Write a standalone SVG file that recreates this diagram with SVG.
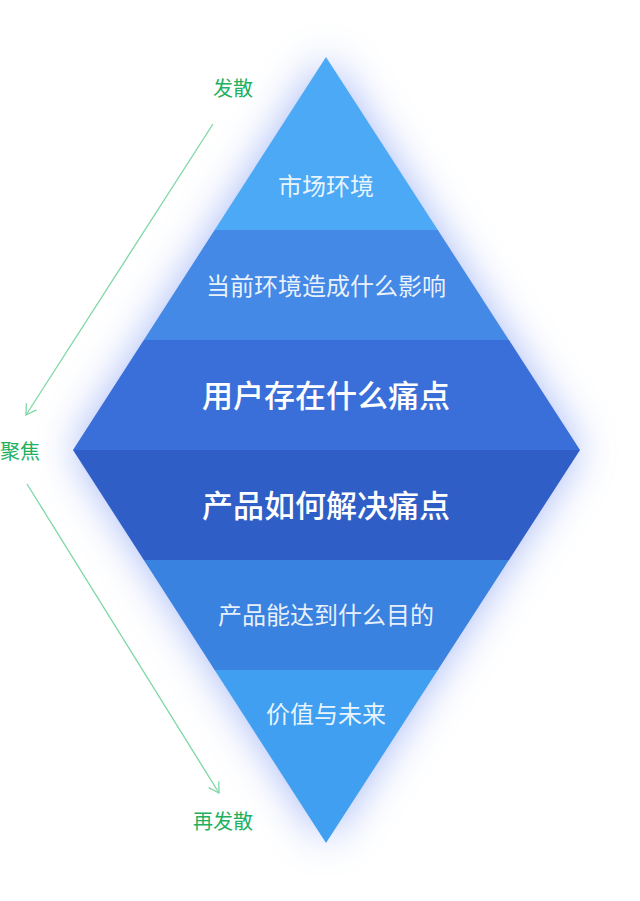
<svg xmlns="http://www.w3.org/2000/svg" width="640" height="901" viewBox="0 0 640 901">
<style>
.t{font-family:"Noto Sans CJK SC","Noto Sans",sans-serif;fill:#ffffff;text-anchor:middle}
.s{font-size:24px;fill-opacity:0.9}
.b{font-size:31px;font-weight:500}
.g{font-family:"Noto Sans CJK SC","Noto Sans",sans-serif;fill:#22b060;font-size:20px;text-anchor:middle}
.ln{stroke:#7dd8a4;stroke-width:1.3;fill:none}
</style>
<defs>
<filter id="glow" x="-40%" y="-30%" width="180%" height="160%">
<feGaussianBlur stdDeviation="22"/>
</filter>
<clipPath id="dia"><polygon points="326,57 580,450 326,843 73,450"/></clipPath>
<marker id="ah" markerWidth="14" markerHeight="14" refX="11" refY="7" orient="auto" markerUnits="userSpaceOnUse">
<path d="M1,1 L11,7 L1,13" fill="none" stroke="#7dd8a4" stroke-width="1.3"/>
</marker>
</defs>
<rect width="640" height="901" fill="#ffffff"/>
<polygon points="326,60 577,450 326,840 76,450" fill="#4f74ee" opacity="0.55" filter="url(#glow)"/>
<g clip-path="url(#dia)">
<g id="band1"><rect x="60" y="50" width="530" height="180" fill="#4ca9f5"/></g>
<g id="band2"><rect x="60" y="230" width="530" height="110" fill="#4489e6"/></g>
<g id="band3"><rect x="60" y="340" width="530" height="110" fill="#3a6fd9"/></g>
<g id="band4"><rect x="60" y="450" width="530" height="110" fill="#2f5ec7"/></g>
<g id="band5"><rect x="60" y="560" width="530" height="110" fill="#3a82e0"/></g>
<g id="band6"><rect x="60" y="670" width="530" height="180" fill="#409ff0"/></g>
</g>
<g id="labels">
<text class="t s" x="326" y="195">市场环境</text>
<text class="t s" x="326" y="295">当前环境造成什么影响</text>
<text class="t b" x="326" y="407">用户存在什么痛点</text>
<text class="t b" x="326" y="517">产品如何解决痛点</text>
<text class="t s" x="326" y="624">产品能达到什么目的</text>
<text class="t s" x="326" y="723">价值与未来</text>
</g>
<g id="connectors">
<line class="ln" x1="213" y1="124" x2="26" y2="415" marker-end="url(#ah)"/>
<line class="ln" x1="27" y1="484" x2="219" y2="793" marker-end="url(#ah)"/>
</g>
<g id="side-labels">
<text class="g" x="233" y="96">发散</text>
<text class="g" x="20" y="459">聚焦</text>
<text class="g" x="223" y="829">再发散</text>
</g>
</svg>
